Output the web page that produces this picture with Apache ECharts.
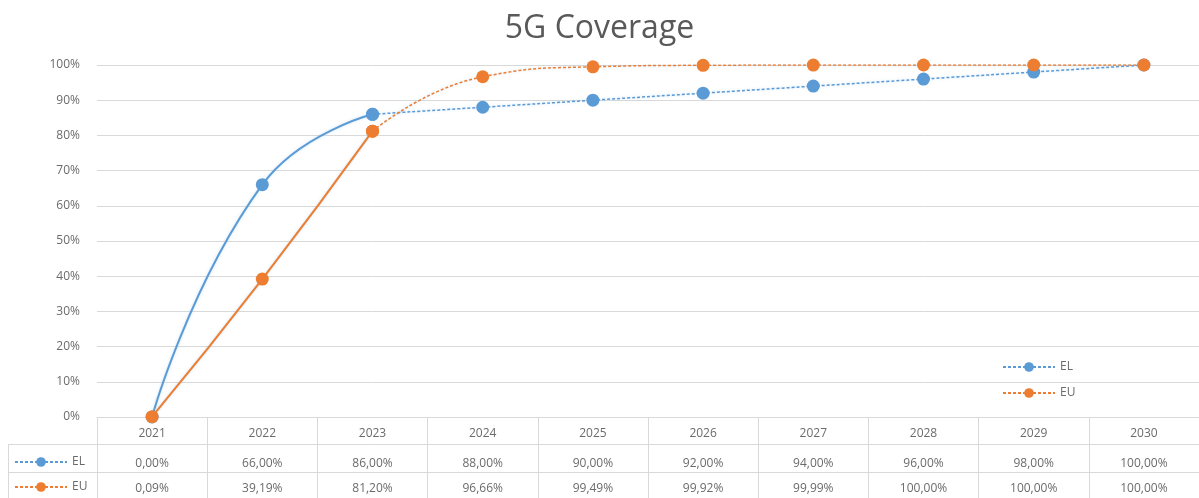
<!DOCTYPE html>
<html>
<head>
<meta charset="utf-8">
<title>5G Coverage</title>
<script src="https://cdn.jsdelivr.net/npm/echarts@6/dist/echarts.min.js"></script>
<style>
    html, body { margin: 0; padding: 0; background: #ffffff; }
    #chart { width: 1199px; height: 498px; }
</style>
</head>
<body>
<div id="chart"></div>
<script>
// 数据
const years = ['2021', '2022', '2023', '2024', '2025', '2026', '2027', '2028', '2029', '2030'];
const elValues = [0, 66, 86, 88, 90, 92, 94, 96, 98, 100];
const euValues = [0.09, 39.19, 81.20, 96.66, 99.49, 99.92, 99.99, 100, 100, 100];
const yTicks = [0, 10, 20, 30, 40, 50, 60, 70, 80, 90, 100];
// last measured year, after it the curve is dashed
const lastActual = 2;

const colors = {
    el: '#5B9BD5',
    eu: '#ED7D31',
    text: '#6b6b6b',
    line: '#d9d9d9'
};
const font = 'Open Sans, sans-serif';

const fmt = (v) => v.toFixed(2).replace('.', ',') + '%';
const solidPart = (arr) => arr.map((v, i) => (i <= lastActual ? v : null));
const dashedPart = (arr) => arr.map((v, i) => (i >= lastActual ? v : null));

function lineSeries(name, data, color, dashed) {
    return {
        name: name,
        type: 'line',
        data: data,
        smooth: 0.5,
        symbol: 'circle',
        symbolSize: 13,
        connectNulls: false,
        lineStyle: {
            color: color,
            width: dashed ? 1.5 : 2,
            type: dashed ? [3, 2] : 'solid',
            shadowColor: 'rgba(160, 200, 235, 0.5)',
            shadowBlur: 3
        },
        itemStyle: { color: color },
        emphasis: { disabled: true }
    };
}

// table axis shared styles
const tableAxis = (data, offset, margin, showTicks) => ({
    type: 'category',
    position: 'bottom',
    data: data,
    offset: offset,
    boundaryGap: true,
    axisLine: { show: true, lineStyle: { color: colors.line, width: 1 } },
    axisTick: {
        show: showTicks,
        length: 82,
        lineStyle: { color: colors.line }
    },
    axisLabel: {
        margin: margin,
        interval: 0,
        color: colors.text,
        fontSize: 12,
        fontFamily: font
    },
    splitLine: { show: false }
});

const legendBase = {
    orient: 'vertical',
    padding: 0,
    itemWidth: 52,
    itemHeight: 12,
    itemGap: 13,
    textStyle: { color: colors.text, fontSize: 12, fontFamily: font },
    data: ['EL', 'EU'],
    selectedMode: false
};

const chart = echarts.init(document.getElementById('chart'));

chart.setOption({
    backgroundColor: '#ffffff',
    animation: false,
    title: {
        text: '5G Coverage',
        left: 'center',
        top: 8,
        textStyle: {
            color: '#595959',
            fontSize: 32,
            fontWeight: 'normal',
            fontFamily: font
        }
    },
    legend: [
        { ...legendBase, left: 1002, top: 361, itemGap: 14 },
        { ...legendBase, left: 14, top: 456, height: 40 }
    ],
    grid: {
        left: 97,
        top: 65,
        width: 1110,
        bottom: 81,
        containLabel: false
    },
    xAxis: [
        tableAxis(years, 0, 11, true),
        tableAxis(elValues.map(fmt), 27, 14, false),
        tableAxis(euValues.map(fmt), 55, 11, false)
    ],
    yAxis: {
        type: 'value',
        min: yTicks[0],
        max: yTicks[yTicks.length - 1],
        interval: 10,
        axisLine: { show: false },
        axisTick: { show: false },
        axisLabel: {
            formatter: '{value}%',
            color: colors.text,
            fontSize: 12,
            fontFamily: font,
            margin: 17
        },
        splitLine: { lineStyle: { color: colors.line, width: 1 } }
    },
    series: [
        lineSeries('EL', dashedPart(elValues), colors.el, true),
        lineSeries('EL', solidPart(elValues), colors.el, false),
        lineSeries('EU', dashedPart(euValues), colors.eu, true),
        lineSeries('EU', solidPart(euValues), colors.eu, false)
    ],
    // left cell borders of the data table
    graphic: [
        { type: 'line', shape: { x1: 8, y1: 444.5, x2: 97, y2: 444.5 }, style: { stroke: colors.line, lineWidth: 1 } },
        { type: 'line', shape: { x1: 8, y1: 472.5, x2: 97, y2: 472.5 }, style: { stroke: colors.line, lineWidth: 1 } },
        { type: 'line', shape: { x1: 8.5, y1: 444, x2: 8.5, y2: 498 }, style: { stroke: colors.line, lineWidth: 1 } }
    ]
});
</script>
</body>
</html>
